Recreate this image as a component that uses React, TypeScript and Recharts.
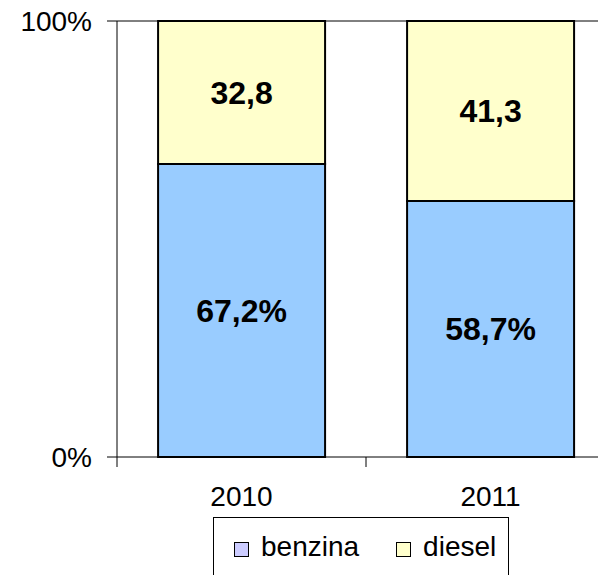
import { BarChart, Bar, XAxis, YAxis, LabelList, ReferenceLine, Legend } from 'recharts'

const YEARS = ['2010', '2011']
const BENZINA = [67.2, 58.7]
const DIESEL = [32.8, 41.3]
const Y_TICKS = [0, 1]

const SERIES = [
  { key: 'benzina', name: 'benzina', fill: '#99ccff', icon: '#ccccff' },
  { key: 'diesel', name: 'diesel', fill: '#ffffcc', icon: '#ffffcc' },
]

const data = YEARS.map((year, i) => ({ year, benzina: BENZINA[i], diesel: DIESEL[i] }))

const FONT = '"Liberation Sans", Arial, sans-serif'
const comma = (v: number) => v.toFixed(1).replace('.', ',')

function XTick(props: any) {
  const { x, y, payload, index, visibleTicksCount } = props
  const half = payload.offset || 0
  const last = index === visibleTicksCount - 1
  return (
    <g>
      <line x1={x - half} x2={x - half} y1={y} y2={y + 10} stroke="#000" />
      {last && <line x1={x + half} x2={x + half} y1={y} y2={y + 10} stroke="#000" />}
      <text x={x} y={y + 49} textAnchor="middle" fill="#000" fontSize={28} fontFamily={FONT}>
        {payload.value}
      </text>
    </g>
  )
}

function LegendBox() {
  return (
    <div
      style={{
        boxSizing: 'border-box', width: 296, height: 60, border: '1px solid #000', background: '#fff',
        display: 'flex', alignItems: 'center', paddingLeft: 20, fontFamily: FONT, fontSize: 28, color: '#000',
      }}
    >
      {SERIES.map((s, i) => (
        <div key={s.key} style={{ display: 'flex', alignItems: 'center', marginLeft: i ? 37 : 0 }}>
          <span style={{ boxSizing: 'border-box', width: 15, height: 15, border: '1px solid #000', background: s.icon, marginRight: 12, marginTop: 4 }} />
          <span>{s.name}</span>
        </div>
      ))}
    </div>
  )
}

export default function App() {
  return (
    <div style={{ position: 'absolute', left: 0, top: 0, width: 598, height: 575, overflow: 'hidden', background: '#fff' }}>
      <BarChart
        width={625}
        height={575}
        data={data}
        stackOffset="expand"
        barCategoryGap="16.5%"
        margin={{ top: 21, right: 10, left: 0, bottom: 68 }}
      >
        <XAxis
          dataKey="year"
          height={50}
          axisLine={{ stroke: '#000' }}
          tickLine={false}
          tickSize={0}
          tickMargin={0}
          tick={<XTick />}
          interval={0}
        />
        <YAxis
          width={117}
          domain={[0, 1]}
          ticks={Y_TICKS}
          tickFormatter={(v: number) => `${v * 100}%`}
          axisLine={{ stroke: '#000' }}
          tickLine={{ stroke: '#000' }}
          tickSize={10}
          tickMargin={15}
          tick={{ fill: '#000', fontSize: 28, fontFamily: FONT }}
        />
        <ReferenceLine y={1} stroke="#000" />
        <Bar dataKey="benzina" stackId="a" fill="#99ccff" stroke="#000" strokeWidth={2} isAnimationActive={false}>
          <LabelList
            dataKey="benzina"
            position="center"
            formatter={(v: any) => `${comma(Number(v))}%`}
            style={{ fill: '#000', fontSize: 32, fontWeight: 'bold', fontFamily: FONT }}
          />
        </Bar>
        <Bar dataKey="diesel" stackId="a" fill="#ffffcc" stroke="#000" strokeWidth={2} isAnimationActive={false}>
          <LabelList
            dataKey="diesel"
            position="center"
            formatter={(v: any) => comma(Number(v))}
            style={{ fill: '#000', fontSize: 32, fontWeight: 'bold', fontFamily: FONT }}
          />
        </Bar>
        <Legend
          layout="horizontal"
          verticalAlign="middle"
          align="center"
          content={() => <LegendBox />}
          wrapperStyle={{ left: 213, top: 517, width: 296, height: 60 }}
        />
      </BarChart>
    </div>
  )
}
